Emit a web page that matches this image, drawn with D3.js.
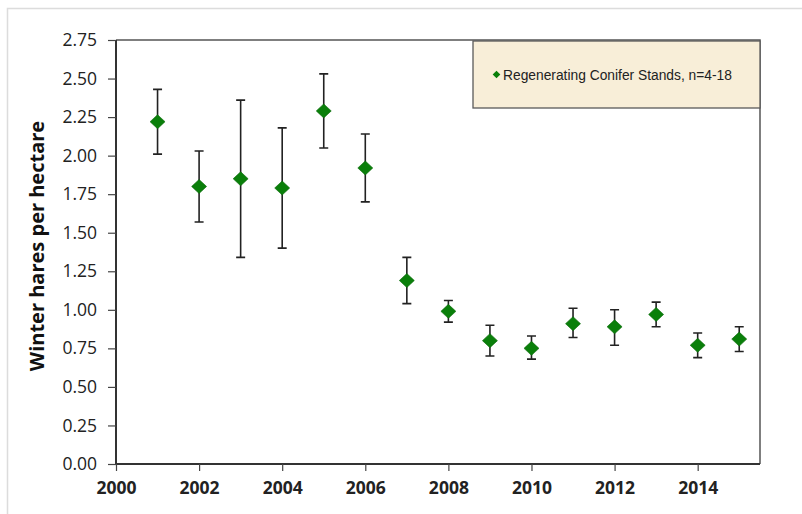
<!DOCTYPE html>
<html>
<head>
<meta charset="utf-8">
<script src="https://cdn.jsdelivr.net/npm/d3@7"></script>
<style>
  html, body { margin: 0; padding: 0; background: #fff; }
  svg { display: block; }
</style>
</head>
<body>
<svg id="chart" width="802" height="514"></svg>
<script>
// Winter hare density in regenerating conifer stands, mean with error range per year
const years  = [2001, 2002, 2003, 2004, 2005, 2006, 2007, 2008, 2009, 2010, 2011, 2012, 2013, 2014, 2015];
const means  = [2.22, 1.80, 1.85, 1.79, 2.29, 1.92, 1.19, 0.99, 0.80, 0.75, 0.91, 0.89, 0.97, 0.77, 0.81];
const lower  = [2.01, 1.57, 1.34, 1.40, 2.05, 1.70, 1.04, 0.92, 0.70, 0.68, 0.82, 0.77, 0.89, 0.69, 0.73];
const upper  = [2.43, 2.03, 2.36, 2.18, 2.53, 2.14, 1.34, 1.06, 0.90, 0.83, 1.01, 1.00, 1.05, 0.85, 0.89];
const xTicks = [2000, 2002, 2004, 2006, 2008, 2010, 2012, 2014];
const yTicks = [0, 0.25, 0.5, 0.75, 1.0, 1.25, 1.5, 1.75, 2.0, 2.25, 2.5, 2.75];
const seriesName = "Regenerating Conifer Stands, n=4-18";
const yTitle = "Winter hares per hectare";

const points = years.map((y, i) => ({ year: y, mean: means[i], lo: lower[i], hi: upper[i] }));

const svg = d3.select("#chart");
const W = 802, H = 514;
const plot = { left: 116, right: 760, top: 40, bottom: 464 };

// outer frame
svg.append("rect")
  .attr("x", 7.5).attr("y", 8.5).attr("width", W).attr("height", H)
  .attr("fill", "#fff").attr("stroke", "#dcdcdc").attr("stroke-width", 1.5);

const x = d3.scaleLinear().domain([2000, 2015.5]).range([plot.left, plot.right]);
const y = d3.scaleLinear().domain([0, 2.75]).range([plot.bottom, plot.top]);

// plot area top and right borders
svg.append("path")
  .attr("d", `M${plot.left},${plot.top}H${plot.right}V${plot.bottom}`)
  .attr("fill", "none").attr("stroke", "#555").attr("stroke-width", 1.5);

// y axis
const yAxis = svg.append("g")
  .attr("transform", `translate(${plot.left},0)`)
  .call(d3.axisLeft(y).tickValues(yTicks).tickFormat(d3.format(".2f")).tickSize(8).tickPadding(11));
yAxis.select(".domain").attr("stroke", "#333").attr("stroke-width", 2).attr("d", `M0,${plot.top}V${plot.bottom}`);
yAxis.selectAll(".tick line").attr("stroke", "#444").attr("stroke-width", 1.2);
yAxis.selectAll(".tick text")
  .attr("fill", "#222")
  .style("font-family", "'Open Sans', sans-serif")
  .style("font-size", "17.5px");

// x axis
const xAxis = svg.append("g")
  .attr("transform", `translate(0,${plot.bottom})`)
  .call(d3.axisBottom(x).tickValues(xTicks).tickFormat(d3.format("d")).tickSize(7).tickPadding(11));
xAxis.select(".domain").attr("stroke", "#333").attr("stroke-width", 2).attr("d", `M${plot.left},0H${plot.right}`);
xAxis.selectAll(".tick line").attr("stroke", "#444").attr("stroke-width", 1.2);
xAxis.selectAll(".tick text")
  .attr("fill", "#222")
  .style("font-family", "'Open Sans', sans-serif")
  .style("font-weight", "bold")
  .style("font-size", "17.5px");

// y axis title
svg.append("text")
  .attr("transform", `translate(44,${(plot.top + plot.bottom) / 2 - 6}) rotate(-90)`)
  .attr("text-anchor", "middle")
  .attr("fill", "#111")
  .style("font-family", "'Open Sans', sans-serif")
  .style("font-weight", "bold")
  .style("font-size", "20px")
  .text(yTitle);

// error bars
const capHalf = 4.5;
const err = svg.append("g").attr("stroke", "#222").attr("stroke-width", 1.6).attr("fill", "none");
err.selectAll("path").data(points).join("path")
  .attr("d", d => {
    const cx = x(d.year), y0 = y(d.lo), y1 = y(d.hi);
    return `M${cx},${y0}V${y1}M${cx - capHalf},${y1}H${cx + capHalf}M${cx - capHalf},${y0}H${cx + capHalf}`;
  });

// diamond markers
const green = "#0a7f0a";
const diamond = (cx, cy, rx, ry) => `M${cx},${cy - ry}L${cx + rx},${cy}L${cx},${cy + ry}L${cx - rx},${cy}Z`;
svg.append("g").selectAll("path").data(points).join("path")
  .attr("d", d => diamond(x(d.year), y(d.mean), 7.5, 7))
  .attr("fill", green)
  .attr("stroke", "#0a6a0a").attr("stroke-width", 0.6);

// legend
const leg = svg.append("g");
leg.append("rect")
  .attr("x", 473).attr("y", 41).attr("width", 287).attr("height", 67)
  .attr("fill", "#f8eed8").attr("stroke", "#5a5a5a").attr("stroke-width", 1.3);
leg.append("path")
  .attr("d", diamond(496.5, 74.5, 3.8, 3.8))
  .attr("fill", green);
leg.append("text")
  .attr("x", 503).attr("y", 79.5)
  .attr("fill", "#222")
  .style("font-family", "'Liberation Sans', Arial, sans-serif")
  .style("font-size", "13.8px")
  .text(seriesName);
</script>
</body>
</html>
